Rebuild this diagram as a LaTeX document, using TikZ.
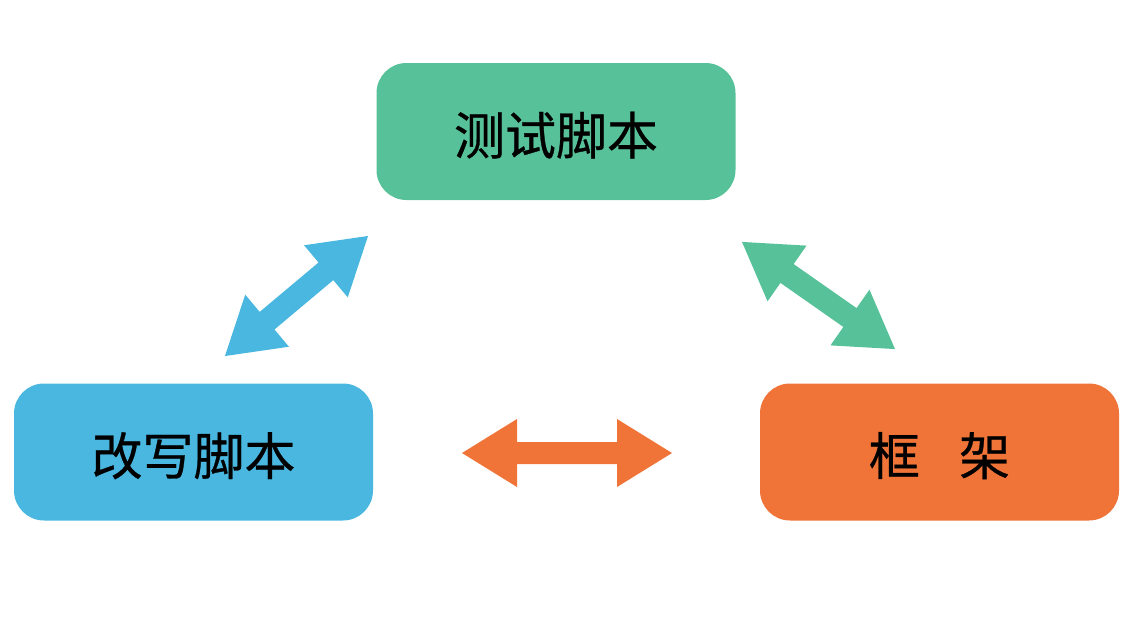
\documentclass[tikz,border=0pt]{standalone}
\usepackage{fontspec}
\newfontfamily\cjk[FakeBold=0.6]{Noto Sans CJK SC}
\definecolor{cgreen}{HTML}{57C29A}
\definecolor{cblue}{HTML}{4AB7E0}
\definecolor{corange}{HTML}{F07438}
\tikzset{
  box/.style={rounded corners=30pt, minimum width=359pt, minimum height=137pt, inner sep=0pt, text height=46pt, text depth=0pt, font=\cjk\fontsize{51}{51}\selectfont, text=black},
  pics/dblarrow/.style={code={
    \fill[#1] (-93.4,0) -- (-38.4,34) -- (-38.4,11.5) -- (38.4,11.5) -- (38.4,34) -- (93.4,0)
      -- (38.4,-34) -- (38.4,-11.5) -- (-38.4,-11.5) -- (-38.4,-34) -- cycle;
  }},
  pics/longarrow/.style={code={
    \fill[#1] (-105,0) -- (-50,34) -- (-50,11) -- (50,11) -- (50,34) -- (105,0)
      -- (50,-34) -- (50,-11) -- (-50,-11) -- (-50,-34) -- cycle;
  }}
}
\begin{document}
\begin{tikzpicture}[x=1pt,y=-1pt]
\useasboundingbox (0,0) rectangle (1142,640);
\node[box, fill=cgreen] (test) at (556,131.5) {测试脚本};
\node[box, fill=cblue] (rewrite) at (193.5,452) {改写脚本};
\node[box, fill=corange] (frame) at (939.5,452) {框\hspace{0.77em}架};
\pic[shift={(296.5,296)}, rotate=40] (arrowblue) {dblarrow=cblue};
\pic[shift={(818.5,295.5)}, rotate=-35] (arrowgreen) {dblarrow=cgreen};
\pic[shift={(567,453)}] (arroworange) {longarrow=corange};
\end{tikzpicture}
\end{document}
